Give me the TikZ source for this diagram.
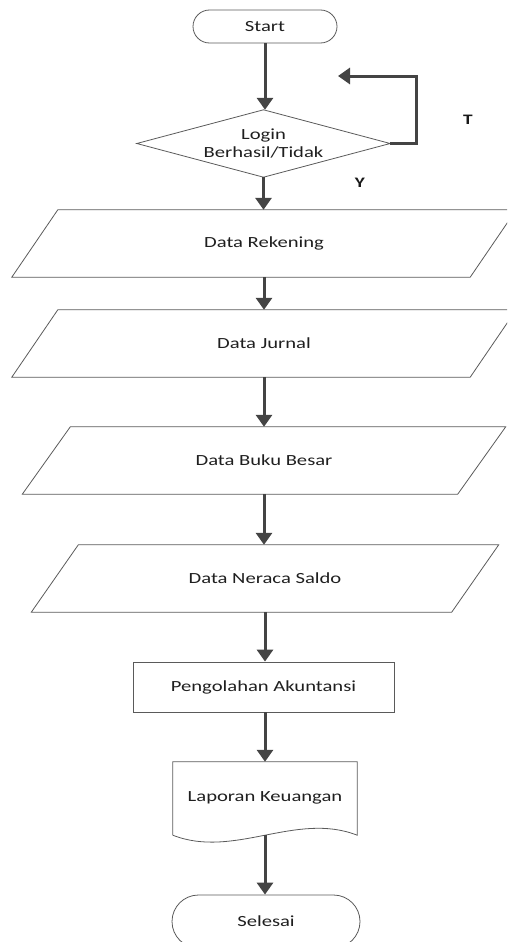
\documentclass[tikz,border=0pt]{standalone}
\usepackage{fontspec}
\setmainfont{Carlito}
\usepackage{graphicx}
\usetikzlibrary{arrows.meta,calc}
\definecolor{arrcol}{HTML}{444444}
\definecolor{edgecol}{HTML}{5A5A5A}
\newcommand\wt[1]{\scalebox{1.33}[1]{#1}}
\begin{document}
\begin{tikzpicture}[x=1pt,y=-1pt,
  lbl/.style={font=\fontsize{15.5}{17.5}\selectfont, text=black!88, inner sep=0},
  outl/.style={draw=edgecol, line width=0.8pt},
  term/.style={lbl, outl, draw=edgecol},
  flow/.style={draw=arrcol, line width=3pt, -{Triangle[width=16pt,length=12pt]}},
  yn/.style={font=\fontsize{14.5}{16}\selectfont\bfseries, text=black!90, inner sep=0}]
\clip (0,0) rectangle (507,942);
% Start
\node[term, rounded corners=16.5pt, minimum width=144, minimum height=33] (start) at (265,26.5) {\wt{Start}};
% Decision
\node[lbl, minimum width=253, minimum height=67, align=center] (login) at (263.5,143.5) {\wt{Login}\\\wt{Berhasil/Tidak}};
\draw[outl] (login.north) -- (login.east) -- (login.south) -- (login.west) -- cycle;
% Data Rekening
\node[lbl, minimum width=458, minimum height=67] (rek) at (264,243.5) {\wt{Data Rekening}};
\draw[outl] ([xshift=-23]rek.south west) -- ([xshift=-23]rek.south east) -- ([xshift=23]rek.north east) -- ([xshift=23]rek.north west) -- cycle;
% Data Jurnal
\node[lbl, minimum width=458, minimum height=67] (jur) at (264,343.5) {\wt{Data Jurnal}};
\draw[outl] ([xshift=-23]jur.south west) -- ([xshift=-23]jur.south east) -- ([xshift=23]jur.north east) -- ([xshift=23]jur.north west) -- cycle;
% Data Buku Besar
\node[lbl, minimum width=435, minimum height=67] (buku) at (264,460.5) {\wt{Data Buku Besar}};
\draw[outl] ([xshift=-24]buku.south west) -- ([xshift=-24]buku.south east) -- ([xshift=24]buku.north east) -- ([xshift=24]buku.north west) -- cycle;
% Data Neraca Saldo
\node[lbl, minimum width=420, minimum height=67] (ner) at (265,578.5) {\wt{Data Neraca Saldo}};
\draw[outl] ([xshift=-23.5]ner.south west) -- ([xshift=-23.5]ner.south east) -- ([xshift=23.5]ner.north east) -- ([xshift=23.5]ner.north west) -- cycle;
% Pengolahan Akuntansi
\node[lbl, outl, minimum width=261, minimum height=50] (peng) at (263.5,687) {\wt{Pengolahan Akuntansi}};
% Laporan Keuangan (document)
\node[lbl, minimum width=184, minimum height=73] (lap) at (265,798.5) {\raisebox{4.5pt}{\wt{Laporan Keuangan}}};
\draw[outl] (lap.south west) -- (lap.north west) -- (lap.north east) -- (lap.south east)
  .. controls ($(lap.south)+(31,-24)$) and ($(lap.south)+(-31,24)$) .. (lap.south west);
% Selesai
\node[term, rounded corners=26.5pt, minimum width=188, minimum height=53] (sel) at (266,921.5) {\wt{Selesai}};
% Labels
\node[yn] (lt) at (468,120) {\wt{T}};
\node[yn] (ly) at (360,183) {\wt{Y}};
% Connectors
\draw[flow] (start.south) -- (start.south |- login.north);
\draw[flow] (login.south) -- (login.south |- rek.north);
\draw[flow] (rek.south) -- (rek.south |- jur.north);
\draw[flow] (jur.south) -- (jur.south |- buku.north);
\draw[flow] (buku.south) -- (buku.south |- ner.north);
\draw[flow] (ner.south) -- (ner.south |- peng.north);
\draw[flow] (peng.south -| ner.south) -- (ner.south |- lap.north);
\draw[flow] (lap.south) -- (lap.south |- sel.north);
\coordinate (lr) at (416,76);
\coordinate (loopend) at (338,76);
\draw[flow] (login.east) -| (lr) -- (loopend);
\end{tikzpicture}
\end{document}
